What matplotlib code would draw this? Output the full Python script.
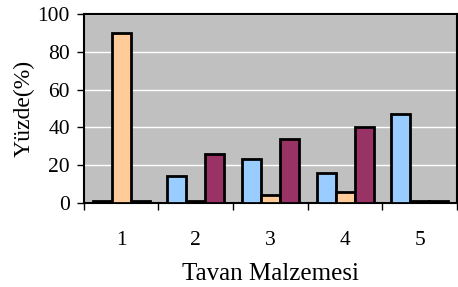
import numpy as np
import matplotlib.pyplot as plt

categories = ['1', '2', '3', '4', '5']
blue_vals = [1, 14, 23, 16, 47]
orange_vals = [90, 1, 4, 6, 1]
purple_vals = [1, 26, 34, 40, 1]

plt.rcParams['font.family'] = ['Liberation Serif', 'DejaVu Serif']

fig = plt.figure(figsize=(4.58, 2.87), dpi=100)
ax = fig.add_axes([0.183, 0.293, 0.815, 0.658])
ax.set_facecolor('#C0C0C0')

x = np.arange(1, len(categories) + 1)
w = 0.255
ax.bar(x - w, blue_vals, w, color='#99CCFF', edgecolor='black', linewidth=2, zorder=3)
ax.bar(x, orange_vals, w, color='#FFCC99', edgecolor='black', linewidth=2, zorder=3)
ax.bar(x + w, purple_vals, w, color='#993366', edgecolor='black', linewidth=2, zorder=3)

ax.set_xlim(0.5, 5.5)
ax.set_ylim(0, 100)
ax.set_yticks([0, 20, 40, 60, 80, 100])
ax.yaxis.grid(True, color='white', linewidth=1, zorder=0)
ax.set_xticks(x)
ax.set_xticklabels(categories)
ax.set_xticks(np.arange(0.5, 6, 1), minor=True)
ax.tick_params(axis='x', which='major', length=0, pad=20, labelsize=15.5)
ax.tick_params(axis='x', which='minor', length=5, width=1)
ax.tick_params(axis='y', length=5, width=1, labelsize=15.5, pad=5)
for s in ax.spines.values():
    s.set_color('black')
    s.set_linewidth(1.5)

ax.set_ylabel('Yüzde(%)', fontsize=17, labelpad=2)
ax.set_xlabel('Tavan Malzemesi', fontsize=18, labelpad=9.5)

fig.savefig('out.png', dpi=100)
